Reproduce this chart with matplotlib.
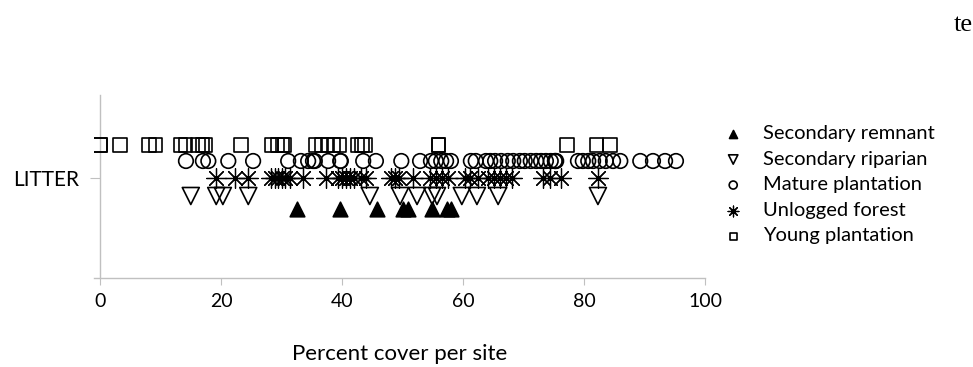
import numpy as np
import matplotlib.pyplot as plt

plt.rcParams['font.family'] = ['Lato', 'DejaVu Sans']

category = "LITTER"
xticks = [0, 20, 40, 60, 80, 100]

# percent cover per site
secondary_remnant = [32.6, 39.7, 45.8, 50.1, 50.9, 54.9, 57.4, 58.0]
secondary_riparian = [15.0, 19.2, 20.3, 24.5, 44.6, 49.6, 52.4, 54.9, 55.7,
                      59.8, 62.3, 65.8, 82.3]
mature_plantation = [14.2, 17.0, 17.9, 21.2, 25.3, 31.1, 33.2, 34.4, 35.2, 35.5,
                     37.7, 39.7, 39.8, 43.5, 45.6, 49.8, 52.9, 54.7, 55.5, 56.4,
                     57.2, 58.0, 61.3, 62.1, 63.8, 64.5, 65.3, 66.3, 67.4, 68.3,
                     69.4, 70.2, 71.2, 72.1, 72.9, 73.7, 74.5, 75.2, 75.2, 75.4,
                     79.0, 79.8, 80.7, 81.5, 82.6, 83.6, 84.8, 86.0, 89.3, 91.4,
                     93.4, 95.2]
unlogged_forest = [19.2, 22.3, 24.5, 28.3, 28.9, 29.4, 30.1, 30.6, 31.4, 33.6,
                   37.4, 39.3, 40.0, 40.7, 41.3, 42.0, 43.1, 44.0, 48.1, 48.8,
                   49.4, 51.7, 54.5, 55.5, 56.5, 57.5, 60.3, 61.2, 62.5, 64.1,
                   65.1, 66.1, 67.1, 68.1, 73.2, 74.4, 76.2, 82.3]
young_plantation = [0, 0, 3.3, 8.1, 9.2, 13.3, 14.1, 16.2, 17.0, 17.4, 23.3,
                    28.4, 29.4, 30.2, 30.5, 35.6, 36.6, 37.6, 38.6, 39.6, 42.6,
                    43.3, 43.8, 55.9, 56.0, 77.2, 82.1, 84.3]

series = [
    ("Secondary remnant", secondary_remnant),
    ("Secondary riparian", secondary_riparian),
    ("Mature plantation", mature_plantation),
    ("Unlogged forest", unlogged_forest),
    ("Young plantation", young_plantation),
]

# vertical offset of each series around the category line, marker style
offsets = {"Secondary remnant": -0.31, "Secondary riparian": -0.18,
           "Mature plantation": 0.17, "Unlogged forest": 0.0,
           "Young plantation": 0.33}
styles = {
    "Secondary remnant": dict(marker="^", s=110, facecolors="black",
                              edgecolors="black", linewidths=1.2),
    "Secondary riparian": dict(marker="v", s=150, facecolors="none",
                               edgecolors="black", linewidths=1.2),
    "Mature plantation": dict(marker="o", s=110, facecolors="none",
                              edgecolors="black", linewidths=1.2),
    "Unlogged forest": dict(marker=(8, 2, 0), s=200, facecolors="black",
                            edgecolors="black", linewidths=0.9),
    "Young plantation": dict(marker="s", s=90, facecolors="none",
                             edgecolors="black", linewidths=1.2),
}

fig = plt.figure(figsize=(9.73, 3.67), dpi=100)
ax = fig.add_axes([94 / 973, 1 - 278 / 367, 611 / 973, 183 / 367])

for name, vals in series:
    ax.scatter(vals, np.full(len(vals), 1 + offsets[name]),
               label=name, zorder=3, **styles[name])

ax.set_xlim(-1, 100)
ax.set_ylim(0, 1.83)
ax.set_xticks(xticks)
ax.set_yticks([1])
ax.set_yticklabels([category])
for sp in ["top", "right"]:
    ax.spines[sp].set_visible(False)
ax.spines["left"].set_position(("data", 0))
for sp in ["left", "bottom"]:
    ax.spines[sp].set_color("#c0c0c0")
    ax.spines[sp].set_linewidth(1)
ax.tick_params(axis="x", colors="#c0c0c0", labelcolor="black", length=5,
               labelsize=14, pad=6)
ax.tick_params(axis="y", colors="#c0c0c0", labelcolor="black", length=7,
               labelsize=15, pad=8)
ax.set_xlabel("Percent cover per site", fontsize=16, labelpad=24)

leg = ax.legend(loc="upper left", bbox_to_anchor=(703 / 973, 1 - 107 / 367),
                bbox_transform=fig.transFigure, frameon=False, fontsize=14.5,
                markerscale=0.55, handletextpad=0.9, labelspacing=0.42,
                handlelength=1.2)

fig.text(954 / 973, 1 - 25 / 367, "te", family="Liberation Serif",
         fontsize=19, va="center", ha="left")

fig.savefig("out.png", dpi=100)
